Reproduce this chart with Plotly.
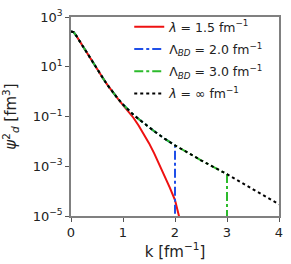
import plotly.graph_objects as go

# k grid and log10(psi^2) values
k_inf = [0, 0.05, 0.1, 0.15, 0.2, 0.3, 0.4, 0.5, 0.6, 0.7, 0.8, 0.9, 1.0, 1.1, 1.2, 1.3, 1.4, 1.5, 1.6, 1.8, 2.0, 2.5, 3.0, 3.5, 4.0]
logpsi_inf = [2.42, 2.39, 2.25, 2.08, 1.91, 1.58, 1.25, 0.92, 0.59, 0.27, -0.02, -0.28, -0.52, -0.74, -0.93, -1.10, -1.27, -1.43, -1.59, -1.89, -2.16, -2.76, -3.32, -3.93, -4.53]

k_15 = [0, 0.05, 0.1, 0.15, 0.2, 0.3, 0.4, 0.5, 0.6, 0.7, 0.8, 0.9, 1.0, 1.1, 1.2, 1.3, 1.4, 1.5, 1.6, 1.7, 1.8, 1.9, 2.0, 2.1]
logpsi_15 = [2.42, 2.39, 2.25, 2.08, 1.91, 1.58, 1.25, 0.92, 0.59, 0.27, -0.02, -0.28, -0.54, -0.79, -1.05, -1.36, -1.70, -2.07, -2.48, -2.92, -3.38, -3.86, -4.36, -5.2]

cut_bd2 = 2.0
cut_bd3 = 3.0
floor_val = -8.0

y_tick_exps = [3, 1, -1, -3, -5]
y_tick_labels = ["10<sup>3</sup>", "10<sup>1</sup>", "10<sup>−1</sup>", "10<sup>−3</sup>", "10<sup>−5</sup>"]
x_ticks = [0, 1, 2, 3, 4]

def truncated(cut):
    ks, ys = [], []
    for kk, yy in zip(k_inf, logpsi_inf):
        if kk <= cut:
            ks.append(kk)
            ys.append(10 ** yy)
    ks.append(cut)
    ys.append(10 ** floor_val)
    return ks, ys

fig = go.Figure()
fig.add_trace(go.Scatter(x=k_15, y=[10 ** v for v in logpsi_15], mode="lines",
                         line=dict(color="#ee1111", width=2), legendgroup="a",
                         name="<i>λ</i> = 1.5 fm<sup>−1</sup>"))
kb, yb = truncated(cut_bd2)
fig.add_trace(go.Scatter(x=kb, y=yb, mode="lines", legendgroup="b",
                         line=dict(color="#1f4fe8", width=2, dash="dashdot"),
                         name="Λ<sub><i>BD</i></sub> = 2.0 fm<sup>−1</sup>"))
kg, yg = truncated(cut_bd3)
fig.add_trace(go.Scatter(x=kg, y=yg, mode="lines", legendgroup="c",
                         line=dict(color="#2cbb2c", width=2, dash="dashdot"),
                         name="Λ<sub><i>BD</i></sub> = 3.0 fm<sup>−1</sup>"))
fig.add_trace(go.Scatter(x=k_inf, y=[10 ** v for v in logpsi_inf], mode="lines",
                         line=dict(color="black", width=2, dash="dot"), legendgroup="d",
                         name="<i>λ</i> = ∞ fm<sup>−1</sup>"))

axis_common = dict(showline=True, linecolor="#808080", linewidth=1.5, mirror=True,
                   ticks="outside", ticklen=4, tickcolor="#555555", showgrid=False,
                   zeroline=False, automargin=False,
                   tickfont=dict(size=13, color="#222222"))

fig.update_xaxes(range=[0, 4], tickvals=x_ticks,
                 title=dict(text="k [fm<sup>−1</sup>]", font=dict(size=15, color="#222222"), standoff=2),
                 **axis_common)
fig.update_yaxes(type="log", range=[-5, 3],
                 tickvals=[10 ** e for e in y_tick_exps], ticktext=y_tick_labels,
                 title=dict(text="<i>ψ</i><sup>2</sup><sub><i>d</i></sub> [fm<sup>3</sup>]",
                            font=dict(size=15, color="#222222")),
                 **axis_common)

fig.update_layout(
    width=291, height=264,
    margin=dict(l=71, r=12, t=12, b=48),
    paper_bgcolor="white", plot_bgcolor="white",
    font=dict(family="DejaVu Sans", color="#222222"),
    legend=dict(x=0.28, y=1.025, xanchor="left", yanchor="top",
                bgcolor="rgba(0,0,0,0)", font=dict(size=12.5), tracegroupgap=3,
                itemwidth=30),
    showlegend=True,
)

fig.write_html("out.html", config={"displayModeBar": False},
               post_script="document.body.style.margin='0';")
